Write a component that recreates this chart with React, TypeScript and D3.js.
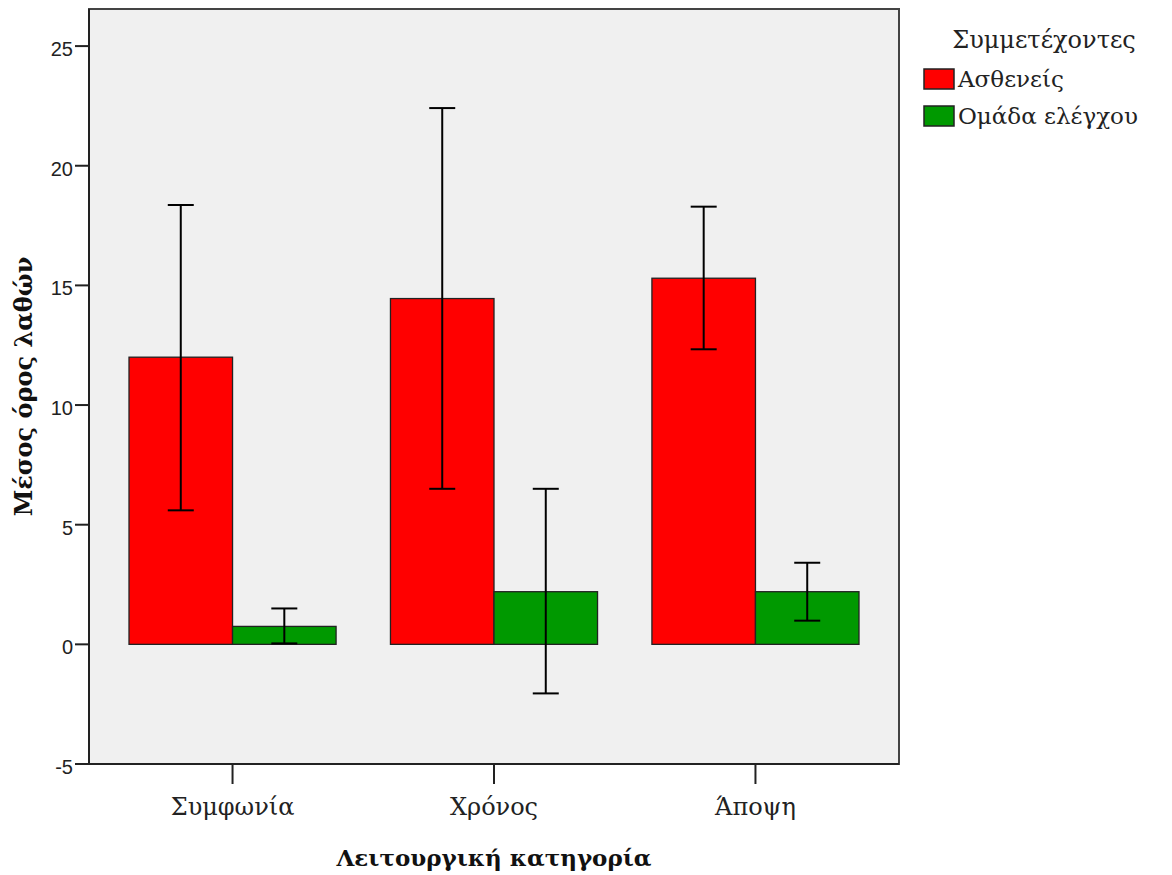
import React from "react";
import * as d3 from "d3";

const categories = ["Συμφωνία", "Χρόνος", "Άποψη"];
const seriesNames = ["Ασθενείς", "Ομάδα ελέγχου"];
const seriesColors = ["#ff0000", "#009900"];
const patientMeans = [12.0, 14.45, 15.3];
const patientLower = [5.6, 6.5, 12.33];
const patientUpper = [18.36, 22.41, 18.29];
const controlMeans = [0.75, 2.2, 2.2];
const controlLower = [0.04, -2.05, 0.99];
const controlUpper = [1.5, 6.5, 3.41];
const yTicks = [-5, 0, 5, 10, 15, 20, 25];
const yTitle = "Μέσος όρος λαθών";
const xTitle = "Λειτουργική κατηγορία";
const legendTitle = "Συμμετέχοντες";

const W = 1172;
const H = 875;
const plot = { left: 89, right: 899, top: 9, bottom: 764 };

export default function App() {
  const y = d3.scaleLinear().domain([-5, 26.55]).range([plot.bottom, plot.top]);
  const x = d3
    .scaleBand<string>()
    .domain(categories)
    .range([plot.left, plot.right])
    .paddingInner(0.208)
    .paddingOuter(0.153);
  const xs = d3.scaleBand<string>().domain(seriesNames).range([0, x.bandwidth()]);

  const series = [
    { name: seriesNames[0], color: seriesColors[0], means: patientMeans, lo: patientLower, hi: patientUpper },
    { name: seriesNames[1], color: seriesColors[1], means: controlMeans, lo: controlLower, hi: controlUpper },
  ];
  const capW = 13;

  return (
    <svg
      width={W}
      height={H}
      style={{ position: "absolute", left: 0, top: 0, background: "#fff" }}
      fontFamily="'DejaVu Serif', serif"
    >
      <rect x={plot.left} y={plot.top} width={plot.right - plot.left} height={plot.bottom - plot.top} fill="#f0f0f0" stroke="#444" strokeWidth={2} />

      {series.map((s) =>
        categories.map((c, i) => {
          const bx = (x(c) as number) + (xs(s.name) as number);
          const bw = xs.bandwidth();
          const y0 = y(0);
          const yv = y(s.means[i]);
          return (
            <rect
              key={s.name + c}
              x={bx}
              y={Math.min(y0, yv)}
              width={bw}
              height={Math.abs(y0 - yv)}
              fill={s.color}
              stroke="#222"
              strokeWidth={1.3}
            />
          );
        })
      )}

      {series.map((s) =>
        categories.map((c, i) => {
          const cx = (x(c) as number) + (xs(s.name) as number) + xs.bandwidth() / 2;
          const yl = y(s.lo[i]);
          const yh = y(s.hi[i]);
          return (
            <g key={"e" + s.name + c} stroke="#000" strokeWidth={2}>
              <line x1={cx} x2={cx} y1={yl} y2={yh} />
              <line x1={cx - capW} x2={cx + capW} y1={yh} y2={yh} />
              <line x1={cx - capW} x2={cx + capW} y1={yl} y2={yl} />
            </g>
          );
        })
      )}

      {/* axes */}
      <line x1={plot.left} x2={plot.left} y1={plot.top} y2={plot.bottom} stroke="#222" strokeWidth={2} />
      <line x1={plot.left} x2={plot.right} y1={plot.bottom} y2={plot.bottom} stroke="#222" strokeWidth={2} />
      {yTicks.map((t) => (
        <g key={t}>
          <line x1={plot.left - 14} x2={plot.left} y1={y(t)} y2={y(t)} stroke="#222" strokeWidth={2} />
          <text
            x={plot.left - 16}
            y={y(t) + 10}
            textAnchor="end"
            fontFamily="'Liberation Sans', Arial, sans-serif"
            fontSize={20}
            fill="#222"
          >
            {t}
          </text>
        </g>
      ))}
      {categories.map((c) => {
        const cx = (x(c) as number) + x.bandwidth() / 2;
        return (
          <g key={c}>
            <line x1={cx} x2={cx} y1={plot.bottom} y2={plot.bottom + 20} stroke="#222" strokeWidth={2} />
            <text x={cx} y={815} textAnchor="middle" fontSize={24} fill="#222">
              {c}
            </text>
          </g>
        );
      })}

      <text
        x={(plot.left + plot.right) / 2}
        y={866}
        textAnchor="middle"
        fontSize={23}
        fontWeight="bold"
        fill="#111"
      >
        {xTitle}
      </text>
      <text
        transform={`translate(32, ${(plot.top + plot.bottom) / 2}) rotate(-90)`}
        textAnchor="middle"
        fontSize={24}
        fontWeight="bold"
        fill="#111"
      >
        {yTitle}
      </text>

      {/* legend */}
      <text x={1044} y={48} textAnchor="middle" fontSize={24} fill="#222">
        {legendTitle}
      </text>
      {series.map((s, i) => (
        <g key={"lg" + s.name} transform={`translate(924, ${69 + i * 37})`}>
          <rect x={0} y={0} width={30} height={20} fill={s.color} stroke="#222" strokeWidth={1.5} />
          <text x={34} y={18} fontSize={23} fill="#222">
            {s.name}
          </text>
        </g>
      ))}
    </svg>
  );
}
